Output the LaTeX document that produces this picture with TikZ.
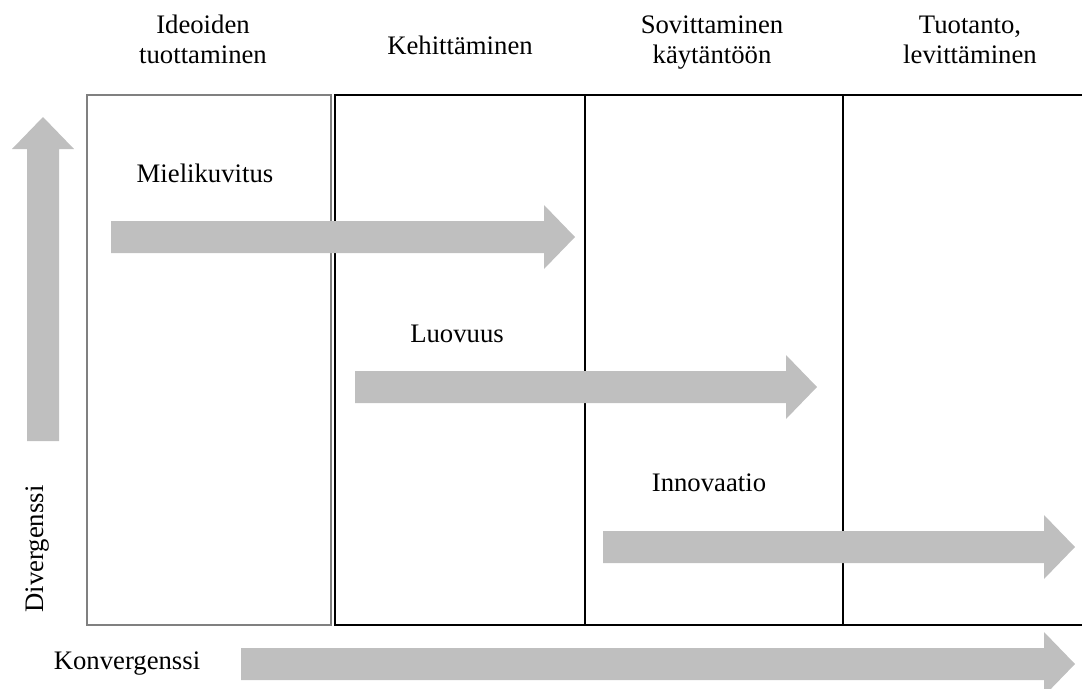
\documentclass[tikz,border=0pt]{standalone}
\usepackage{fontspec}
\setmainfont{Liberation Serif}
\usetikzlibrary{positioning}
\definecolor{arrowgray}{HTML}{BFBFBF}
\definecolor{boxgray}{HTML}{808080}

\tikzset{
    lbl/.style={font=\fontsize{19}{21.3}\selectfont, inner sep=0pt, anchor=base, align=center},
    bigarrow/.style={fill=arrowgray, draw=none},
    frame/.style={draw=black, line width=1.4pt},
}

\begin{document}
\begin{tikzpicture}[x=0.25mm, y=-0.25mm]
    \useasboundingbox (0,0) rectangle (1082,689);
    % phase columns
    \draw[boxgray, line width=1.3pt] (87,95) rectangle (331,625);
    \draw[frame] (1082,95) -| (335,625) -- (1082,625);
    \draw[frame] (585,95) -- (585,625) (843,95) -- (843,625);
    % block arrows: start, tip, middle
    \foreach \xa/\xb/\yc in {111/575/237, 355/817/387, 603/1075/547, 241/1075/664} {
        \fill[bigarrow] (\xa,\yc-16) -- (\xb-31,\yc-16) -- (\xb-31,\yc-32) -- (\xb,\yc)
            -- (\xb-31,\yc+32) -- (\xb-31,\yc+16) -- (\xa,\yc+16) -- cycle;
    }
    \fill[bigarrow] (27,441) -- (27,149) -- (12,149) -- (43,117) -- (74,149) -- (59,149) -- (59,441) -- cycle;
    % column heads
    \foreach \t/\x/\y [count=\c] in {
        {Ideoiden\\tuottaminen}/203/63,
        {Kehittäminen}/460/54,
        {Sovittaminen\\käytäntöön}/712/63,
        {Tuotanto,\\levittäminen}/970/63
    } {
        \node[lbl] (head\c) at (\x,\y) {\t};
    }
    \node[lbl] (mieli) at (205,182) {Mielikuvitus};
    \node[lbl] (luovuus) at (457,342) {Luovuus};
    \node[lbl] (innov) at (709,491) {Innovaatio};
    \node[lbl] (konv) at (127,669) {Konvergenssi};
    \node[lbl, rotate=90] (div) at (43,549) {Divergenssi};
\end{tikzpicture}
\end{document}
